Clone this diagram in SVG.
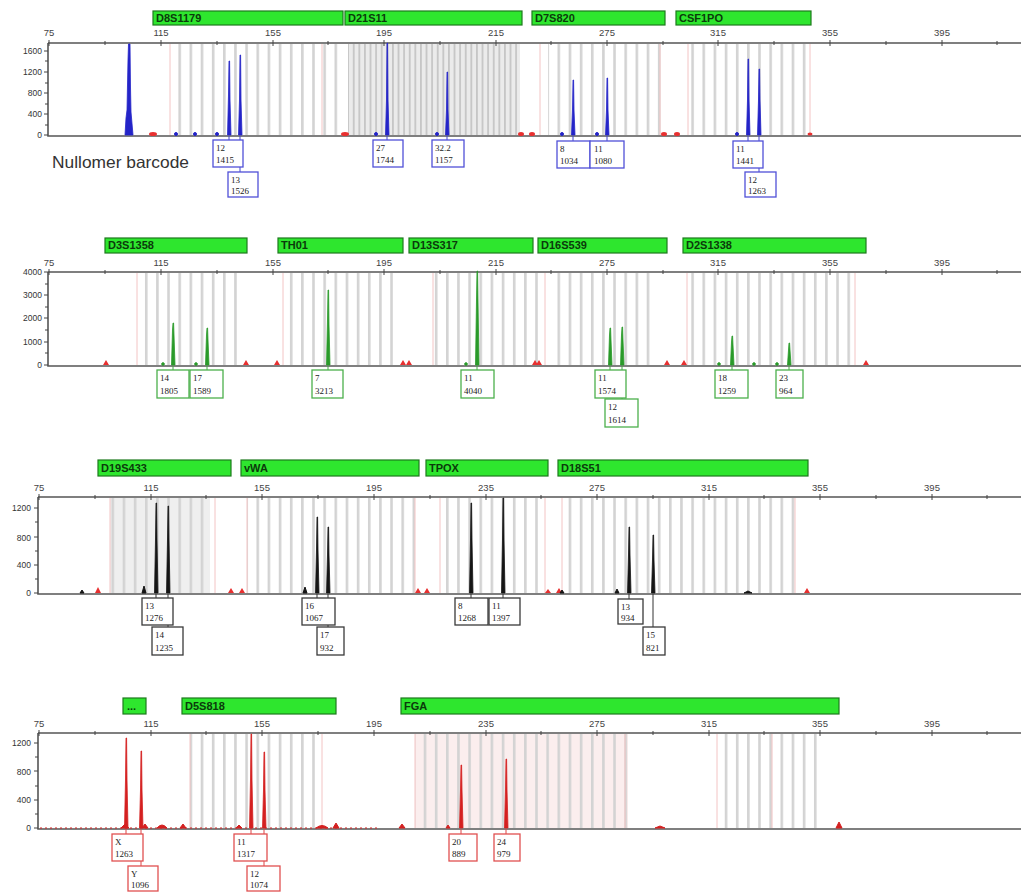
<svg xmlns="http://www.w3.org/2000/svg" width="1021" height="892" viewBox="0 0 1021 892">
<defs>
<style>
.loc{fill:#2ee62e;stroke:#1d7a1d;stroke-width:1.2}
.lt{font-family:"Liberation Sans",Arial,sans-serif;font-weight:bold;font-size:11px;fill:#0b3a0b}
.tk{font-family:"Liberation Sans",Arial,sans-serif;font-size:9.5px;fill:#444;text-anchor:middle}
.yl{font-family:"Liberation Sans",Arial,sans-serif;font-size:8.5px;fill:#333;text-anchor:end}
.ax{stroke:#555;stroke-width:1.6;fill:none}
.tm{stroke:#444;stroke-width:1}
.pk{stroke-width:0.8;stroke-linejoin:round}
.bx{fill:#fff;stroke-width:1.3}
.bt{font-family:"Liberation Serif","Times New Roman",serif;font-size:9px;fill:#222}
.pink{stroke:#f3c4c4;stroke-width:1}
.cb{stroke:#4444cc;stroke-width:1}
.cg{stroke:#44aa44;stroke-width:1}
.ck{stroke:#333;stroke-width:1}
.cr{stroke:#dd4444;stroke-width:1}
.mk{fill:#e83030}
</style>
<pattern id="pb" width="11.15" height="200" patternUnits="userSpaceOnUse"><rect width="2.6" height="200" fill="#d3d3d3"/></pattern>
<pattern id="pd" width="5.6" height="200" patternUnits="userSpaceOnUse"><rect width="5.6" height="200" fill="#ebebeb"/><rect width="1.8" height="200" fill="#c6c6c6"/></pattern>
</defs>

<!-- ================= PANEL 1 ================= -->
<g id="panel1">
<g id="bins1">
<rect x="170" y="44" width="170" height="91" fill="url(#pb)"/>
<rect x="348" y="44" width="172" height="91" fill="url(#pd)"/>
<rect x="548" y="44" width="117" height="91" fill="url(#pb)"/>
<rect x="684" y="44" width="122" height="91" fill="url(#pb)"/>
<line class="pink" x1="170" y1="44" x2="170" y2="135"/><line class="pink" x1="322" y1="44" x2="322" y2="135"/>
<line class="pink" x1="540" y1="44" x2="540" y2="135"/><line class="pink" x1="660" y1="44" x2="660" y2="135"/>
<line class="pink" x1="688" y1="44" x2="688" y2="135"/><line class="pink" x1="810" y1="44" x2="810" y2="135"/>
</g>
<g id="loci1">
<g id="loc-D8S1179"><rect class="loc" x="153" y="11" width="190" height="14"/><text class="lt" x="156" y="22">D8S1179</text></g>
<g id="loc-D21S11"><rect class="loc" x="345" y="11" width="177" height="14"/><text class="lt" x="348" y="22">D21S11</text></g>
<g id="loc-D7S820"><rect class="loc" x="532" y="11" width="133" height="14"/><text class="lt" x="535" y="22">D7S820</text></g>
<g id="loc-CSF1PO"><rect class="loc" x="676" y="11" width="135" height="14"/><text class="lt" x="679" y="22">CSF1PO</text></g>
</g>
<g id="axis1">
<text class="tk" x="49" y="36">75</text><text class="tk" x="161" y="36">115</text><text class="tk" x="273" y="36">155</text>
<text class="tk" x="384" y="36">195</text><text class="tk" x="496" y="36">215</text><text class="tk" x="607" y="36">275</text>
<text class="tk" x="718" y="36">315</text><text class="tk" x="830" y="36">355</text><text class="tk" x="942" y="36">395</text>
<path class="ax" d="M48 43 H1021 M48 43 V136 H1021"/>
<path class="tm" d="M49 40v6M105 41v4M161 40v6M217 41v4M273 40v6M328 41v4M384 40v6M440 41v4M496 40v6M551 41v4M607 40v6M663 41v4M718 40v6M774 41v4M830 40v6M886 41v4M942 40v6M997 41v4"/>
<path class="tm" d="M44 51h4M45 61h3M44 72h4M45 83h3M44 93h4M45 104h3M44 114h4M45 125h3M44 135h4"/>
<text class="yl" x="42" y="54">1600</text><text class="yl" x="42" y="75">1200</text><text class="yl" x="42" y="96">800</text>
<text class="yl" x="42" y="117">400</text><text class="yl" x="42" y="138">0</text>
</g>
<g id="markers1" class="mk">
<ellipse cx="153" cy="134" rx="4" ry="2"/><ellipse cx="345" cy="134" rx="4" ry="2"/><ellipse cx="521" cy="134" rx="3" ry="2"/>
<ellipse cx="532" cy="134" rx="3" ry="2"/><ellipse cx="664" cy="134" rx="3" ry="2"/><ellipse cx="677" cy="134" rx="3" ry="2"/><ellipse cx="810" cy="134" rx="2.5" ry="1.5"/>
</g>
<g id="peaks1" fill="#2424c8" stroke="#2424c8">
<path class="pk" d="M125 135 L126 118 L127 110 L128 60 L128.5 44 L130 44 L130.5 88 L131 112 L133 135Z"/>
<path class="pk" d="M227.5 135 L228.5 95 L229 61 L229.6 61 L230 100 L231 135Z"/>
<path class="pk" d="M238.5 135 L239.5 100 L240 55 L240.6 55 L241 100 L242 135Z"/>
<path class="pk" d="M385.5 135 L386.5 100 L387 43 L387.6 43 L388 100 L389 135Z"/>
<path class="pk" d="M445.5 135 L446.5 110 L447 72 L447.6 72 L448 110 L449 135Z"/>
<path class="pk" d="M571.5 135 L572.5 110 L573 80 L573.6 80 L574 110 L575 135Z"/>
<path class="pk" d="M605.5 135 L606.5 110 L607 78 L607.6 78 L608 110 L609 135Z"/>
<path class="pk" d="M746.5 135 L747.5 100 L748 59 L748.6 59 L749 100 L750 135Z"/>
<path class="pk" d="M757.5 135 L758.5 100 L759 69 L759.6 69 L760 100 L761 135Z"/>
<circle cx="176" cy="134" r="1.5"/><circle cx="195" cy="134" r="1.5"/><circle cx="217" cy="134" r="1.5"/>
<circle cx="376" cy="134" r="1.5"/><circle cx="437" cy="134" r="1.5"/><circle cx="562" cy="134" r="1.5"/>
<circle cx="597" cy="134" r="1.5"/><circle cx="737" cy="134" r="1.5"/>
</g>
<text x="52" y="168" font-family="'Liberation Sans',Arial,sans-serif" font-size="16.5" fill="#333" textLength="137" lengthAdjust="spacingAndGlyphs">Nullomer barcode</text>
</g>

<!-- ================= PANEL 2 ================= -->
<g id="panel2">
<g id="bins2">
<rect x="137" y="273" width="100" height="92" fill="url(#pb)"/>
<rect x="283" y="273" width="118" height="92" fill="url(#pb)"/>
<rect x="433" y="273" width="112" height="92" fill="url(#pb)"/>
<rect x="557" y="273" width="100" height="92" fill="url(#pb)"/>
<rect x="687" y="273" width="168" height="92" fill="url(#pb)"/>
<line class="pink" x1="137" y1="273" x2="137" y2="365"/><line class="pink" x1="283" y1="273" x2="283" y2="365"/>
<line class="pink" x1="433" y1="273" x2="433" y2="365"/><line class="pink" x1="545" y1="273" x2="545" y2="365"/>
<line class="pink" x1="687" y1="273" x2="687" y2="365"/><line class="pink" x1="855" y1="273" x2="855" y2="365"/>
</g>
<g id="loci2">
<g id="loc-D3S1358"><rect class="loc" x="105" y="238" width="142" height="15"/><text class="lt" x="108" y="249">D3S1358</text></g>
<g id="loc-TH01"><rect class="loc" x="278" y="238" width="125" height="15"/><text class="lt" x="281" y="249">TH01</text></g>
<g id="loc-D13S317"><rect class="loc" x="409" y="238" width="124" height="15"/><text class="lt" x="412" y="249">D13S317</text></g>
<g id="loc-D16S539"><rect class="loc" x="538" y="238" width="129" height="15"/><text class="lt" x="541" y="249">D16S539</text></g>
<g id="loc-D2S1338"><rect class="loc" x="683" y="238" width="183" height="15"/><text class="lt" x="686" y="249">D2S1338</text></g>
</g>
<g id="axis2">
<text class="tk" x="49" y="266">75</text><text class="tk" x="161" y="266">115</text><text class="tk" x="273" y="266">155</text>
<text class="tk" x="384" y="266">195</text><text class="tk" x="496" y="266">215</text><text class="tk" x="607" y="266">275</text>
<text class="tk" x="718" y="266">315</text><text class="tk" x="830" y="266">355</text><text class="tk" x="942" y="266">395</text>
<path class="ax" d="M48 272 H1021 M48 272 V366 H1021"/>
<path class="tm" d="M49 269v6M105 270v4M161 269v6M217 270v4M273 269v6M328 270v4M384 269v6M440 270v4M496 269v6M551 270v4M607 269v6M663 270v4M718 269v6M774 270v4M830 269v6M886 270v4M942 269v6M997 270v4"/>
<path class="tm" d="M44 272h4M45 284h3M44 295h4M45 307h3M44 318h4M45 330h3M44 342h4M45 353h3M44 365h4"/>
<text class="yl" x="42" y="275">4000</text><text class="yl" x="42" y="298">3000</text><text class="yl" x="42" y="321">2000</text>
<text class="yl" x="42" y="345">1000</text><text class="yl" x="42" y="368">0</text>
</g>
<g id="markers2" class="mk">
<path d="M103 365 l3 -5 l3 5z"/><path d="M243 365 l3 -5 l3 5z"/><path d="M274 365 l3 -5 l3 5z"/>
<path d="M400 365 l3 -5 l3 5z"/><path d="M406 365 l3 -5 l3 5z"/><path d="M532 365 l3 -5 l3 5z"/>
<path d="M536 365 l3 -5 l3 5z"/><path d="M664 365 l3 -5 l3 5z"/><path d="M681 365 l3 -5 l3 5z"/><path d="M863 365 l3 -5 l3 5z"/>
</g>
<g id="peaks2" fill="#2a9a2a" stroke="#2a9a2a">
<path class="pk" d="M171.5 365 L172.5 330 L173 323 L173.6 323 L174 335 L175 365Z"/>
<path class="pk" d="M205.5 365 L206.5 335 L207 328 L207.6 328 L208 340 L209 365Z"/>
<path class="pk" d="M326.5 365 L327.5 320 L328 290 L328.6 290 L329 325 L330 365Z"/>
<path class="pk" d="M475.5 365 L476.5 300 L477 271 L477.6 271 L478 300 L479 365Z"/>
<path class="pk" d="M608.5 365 L609.5 335 L610 328 L610.6 328 L611 340 L612 365Z"/>
<path class="pk" d="M620.5 365 L621.5 335 L622 327 L622.6 327 L623 340 L624 365Z"/>
<path class="pk" d="M730.5 365 L731.5 342 L732 336 L732.6 336 L733 345 L734 365Z"/>
<path class="pk" d="M787.5 365 L788.5 350 L789 343 L789.6 343 L790 350 L791 365Z"/>
<circle cx="163" cy="364" r="1.3"/><circle cx="196" cy="364" r="1.3"/><circle cx="466" cy="364" r="1.3"/>
<circle cx="719" cy="364" r="1.3"/><circle cx="777" cy="364" r="1.3"/><circle cx="754" cy="364" r="1.3"/>
</g>
</g>

<!-- ================= PANEL 3 ================= -->
<g id="panel3">
<g id="bins3">
<rect x="110" y="498" width="100" height="95" fill="#efefef"/>
<rect x="110" y="498" width="100" height="95" fill="url(#pb)"/>
<rect x="247" y="498" width="168" height="95" fill="url(#pb)"/>
<rect x="440" y="498" width="103" height="95" fill="url(#pb)"/>
<rect x="562" y="498" width="233" height="95" fill="url(#pb)"/>
<line class="pink" x1="110" y1="498" x2="110" y2="593"/><line class="pink" x1="215" y1="498" x2="215" y2="593"/>
<line class="pink" x1="247" y1="498" x2="247" y2="593"/><line class="pink" x1="415" y1="498" x2="415" y2="593"/>
<line class="pink" x1="440" y1="498" x2="440" y2="593"/><line class="pink" x1="545" y1="498" x2="545" y2="593"/>
<line class="pink" x1="562" y1="498" x2="562" y2="593"/><line class="pink" x1="795" y1="498" x2="795" y2="593"/>
</g>
<g id="loci3">
<g id="loc-D19S433"><rect class="loc" x="98" y="460" width="133" height="16"/><text class="lt" x="101" y="472">D19S433</text></g>
<g id="loc-vWA"><rect class="loc" x="241" y="460" width="178" height="16"/><text class="lt" x="244" y="472">vWA</text></g>
<g id="loc-TPOX"><rect class="loc" x="426" y="460" width="122" height="16"/><text class="lt" x="429" y="472">TPOX</text></g>
<g id="loc-D18S51"><rect class="loc" x="558" y="460" width="250" height="16"/><text class="lt" x="561" y="472">D18S51</text></g>
</g>
<g id="axis3">
<text class="tk" x="39" y="491">75</text><text class="tk" x="151" y="491">115</text><text class="tk" x="262" y="491">155</text>
<text class="tk" x="374" y="491">195</text><text class="tk" x="486" y="491">235</text><text class="tk" x="597" y="491">275</text>
<text class="tk" x="709" y="491">315</text><text class="tk" x="820" y="491">355</text><text class="tk" x="932" y="491">395</text>
<path class="ax" d="M38 497 H1021 M38 497 V594 H1021"/>
<path class="tm" d="M39 494v6M95 495v4M151 494v6M206 495v4M262 494v6M318 495v4M374 494v6M430 495v4M486 494v6M541 495v4M597 494v6M653 495v4M709 494v6M764 495v4M820 494v6M876 495v4M932 494v6M987 495v4"/>
<path class="tm" d="M34 508h4M35 522h3M34 537h4M35 551h3M34 565h4M35 579h3M34 593h4"/>
<text class="yl" x="31" y="511">1200</text><text class="yl" x="31" y="541">800</text>
<text class="yl" x="31" y="568">400</text><text class="yl" x="31" y="596">0</text>
</g>
<g id="markers3" class="mk">
<path d="M95 593 l3 -6 l3 6z"/><path d="M228 593 l3 -5 l3 5z"/><path d="M239 593 l3 -5 l3 5z"/>
<path d="M415 593 l3 -5 l3 5z"/><path d="M424 593 l3 -5 l3 5z"/><path d="M545 593 l3 -4 l3 4z"/>
<path d="M556 593 l3 -5 l3 5z"/><path d="M804 593 l3 -5 l3 5z"/>
</g>
<g id="peaks3" fill="#151515" stroke="#151515">
<path class="pk" d="M154.5 593 L155.5 540 L156 503 L156.6 503 L157 540 L158 593Z"/>
<path class="pk" d="M166.5 593 L167.5 540 L168 506 L168.6 506 L169 540 L170 593Z"/>
<path class="pk" d="M315.5 593 L316.5 550 L317 517 L317.6 517 L318 550 L319 593Z"/>
<path class="pk" d="M326.5 593 L327.5 555 L328 527 L328.6 527 L329 555 L330 593Z"/>
<path class="pk" d="M469.5 593 L470.5 540 L471 503 L471.6 503 L472 540 L473 593Z"/>
<path class="pk" d="M501.5 593 L502.5 540 L503 498 L503.6 498 L504 540 L505 593Z"/>
<path class="pk" d="M627.5 593 L628.5 555 L629 527 L629.6 527 L630 555 L631 593Z"/>
<path class="pk" d="M651.5 593 L652.5 560 L653 535 L653.6 535 L654 560 L655 593Z"/>
<path d="M142 593 L144 586 L146 593Z"/><path d="M303 593 L305 587 L307 593Z"/><path d="M80 593 L82 590 L84 593Z"/>
<path d="M615 593 L617 589 L619 593Z"/><path d="M560 593 L562 590 L564 593Z"/><path d="M744 593 L748 591 L752 593Z"/>
</g>
</g>

<!-- ================= PANEL 4 ================= -->
<g id="panel4">
<g id="bins4">
<rect x="190" y="734" width="130" height="94" fill="url(#pb)"/>
<rect x="415" y="734" width="213" height="94" fill="#fbeeee"/>
<rect x="415" y="734" width="213" height="94" fill="url(#pb)"/>
<rect x="717" y="734" width="105" height="94" fill="url(#pb)"/>
<line class="pink" x1="190" y1="734" x2="190" y2="828"/><line class="pink" x1="322" y1="734" x2="322" y2="828"/>
<line class="pink" x1="415" y1="734" x2="415" y2="828"/><line class="pink" x1="625" y1="734" x2="625" y2="828"/>
<line class="pink" x1="717" y1="734" x2="717" y2="828"/><line class="pink" x1="772" y1="734" x2="772" y2="828"/>
</g>
<g id="loci4">
<g id="loc-X"><rect class="loc" x="123" y="698" width="23" height="16"/><text class="lt" x="127" y="710">...</text></g>
<g id="loc-D5S818"><rect class="loc" x="182" y="698" width="154" height="16"/><text class="lt" x="185" y="710">D5S818</text></g>
<g id="loc-FGA"><rect class="loc" x="401" y="698" width="438" height="16"/><text class="lt" x="404" y="710">FGA</text></g>
</g>
<g id="axis4">
<text class="tk" x="39" y="727">75</text><text class="tk" x="151" y="727">115</text><text class="tk" x="262" y="727">155</text>
<text class="tk" x="374" y="727">195</text><text class="tk" x="486" y="727">235</text><text class="tk" x="597" y="727">275</text>
<text class="tk" x="709" y="727">315</text><text class="tk" x="820" y="727">355</text><text class="tk" x="932" y="727">395</text>
<path class="ax" d="M38 733 H1021 M38 733 V829 H1021"/>
<path class="tm" d="M39 730v6M95 731v4M151 730v6M206 731v4M262 730v6M318 731v4M374 730v6M430 731v4M486 730v6M541 731v4M597 730v6M653 731v4M709 730v6M764 731v4M820 730v6M876 731v4M932 730v6M987 731v4"/>
<path class="tm" d="M34 743h4M35 757h3M34 771h4M35 786h3M34 800h4M35 814h3M34 828h4"/>
<text class="yl" x="31" y="746">1200</text><text class="yl" x="31" y="775">800</text>
<text class="yl" x="31" y="803">400</text><text class="yl" x="31" y="831">0</text>
</g>
<g id="peaks4" fill="#d42020" stroke="#d42020">
<path class="pk" d="M124.5 828 L125.5 780 L126 738 L126.6 738 L127 780 L128 828Z"/>
<path class="pk" d="M139.5 828 L140.5 790 L141 751 L141.6 751 L142 790 L143 828Z"/>
<path class="pk" d="M249.5 828 L250.5 780 L251 734 L251.6 734 L252 780 L253 828Z"/>
<path class="pk" d="M262.5 828 L263.5 790 L264 752 L264.6 752 L265 790 L266 828Z"/>
<path class="pk" d="M459.5 828 L460.5 790 L461 765 L461.6 765 L462 790 L463 828Z"/>
<path class="pk" d="M504.5 828 L505.5 790 L506 759 L506.6 759 L507 790 L508 828Z"/>
<path d="M121 828 L125 824 L129 828Z"/><path d="M142 828 L145 824 L148 828Z"/><path d="M157 828 Q162 822 167 828Z"/>
<path d="M180 828 L183 824 L186 828Z"/><path d="M236 828 L239 825 L242 828Z"/><path d="M316 828 Q322 823 328 828Z"/>
<path d="M333 828 L336 823 L339 828Z"/><path d="M399 828 L402 824 L405 828Z"/><path d="M446 828 L448 825 L450 828Z"/>
<path d="M836 828 L839 822 L842 828Z"/><path d="M655 828 L660 826 L665 828Z"/>
</g>
<line x1="40" y1="828" x2="380" y2="828" stroke="#d42020" stroke-width="1" stroke-dasharray="2 3"/>
</g>

<!-- ================= CONNECTORS ================= -->
<g id="connectors">
<line class="cb" x1="229" y1="136" x2="229" y2="140"/><line class="cb" x1="240" y1="136" x2="240" y2="172"/>
<line class="cb" x1="387" y1="136" x2="387" y2="140"/><line class="cb" x1="447" y1="136" x2="447" y2="140"/>
<line class="cb" x1="573" y1="136" x2="573" y2="141"/><line class="cb" x1="607" y1="136" x2="607" y2="141"/>
<line class="cb" x1="748" y1="136" x2="748" y2="141"/><line class="cb" x1="759" y1="136" x2="759" y2="172"/>
<line class="cg" x1="173" y1="366" x2="173" y2="370"/><line class="cg" x1="207" y1="366" x2="207" y2="370"/>
<line class="cg" x1="328" y1="366" x2="328" y2="370"/><line class="cg" x1="477" y1="366" x2="477" y2="370"/>
<line class="cg" x1="610" y1="366" x2="610" y2="370"/><line class="cg" x1="622" y1="366" x2="622" y2="399"/>
<line class="cg" x1="732" y1="366" x2="732" y2="370"/><line class="cg" x1="789" y1="366" x2="789" y2="370"/>
<line class="ck" x1="156" y1="594" x2="156" y2="598"/><line class="ck" x1="168" y1="594" x2="168" y2="627"/>
<line class="ck" x1="317" y1="594" x2="317" y2="598"/><line class="ck" x1="328" y1="594" x2="328" y2="627"/>
<line class="ck" x1="471" y1="594" x2="471" y2="598"/><line class="ck" x1="503" y1="594" x2="503" y2="598"/>
<line class="ck" x1="629" y1="594" x2="629" y2="599"/><line class="ck" x1="653" y1="594" x2="653" y2="627"/>
<line class="cr" x1="126" y1="829" x2="126" y2="834"/><line class="cr" x1="141" y1="829" x2="141" y2="866"/>
<line class="cr" x1="251" y1="829" x2="251" y2="834"/><line class="cr" x1="264" y1="829" x2="264" y2="866"/>
<line class="cr" x1="461" y1="829" x2="461" y2="834"/><line class="cr" x1="506" y1="829" x2="506" y2="834"/>
</g>

<!-- ================= ALLELE LABELS ================= -->
<g id="labels1" stroke="#5050d8">
<g id="a1"><rect class="bx" x="213" y="140" width="30" height="27"/><text class="bt" stroke="none" x="216" y="151">12</text><text class="bt" stroke="none" x="216" y="163">1415</text></g>
<g id="a2"><rect class="bx" x="228" y="172" width="30" height="25"/><text class="bt" stroke="none" x="231" y="183">13</text><text class="bt" stroke="none" x="231" y="194">1526</text></g>
<g id="a3"><rect class="bx" x="373" y="140" width="30" height="27"/><text class="bt" stroke="none" x="376" y="151">27</text><text class="bt" stroke="none" x="376" y="163">1744</text></g>
<g id="a4"><rect class="bx" x="432" y="140" width="32" height="27"/><text class="bt" stroke="none" x="435" y="151">32.2</text><text class="bt" stroke="none" x="435" y="163">1157</text></g>
<g id="a5"><rect class="bx" x="557" y="141" width="33" height="27"/><text class="bt" stroke="none" x="560" y="152">8</text><text class="bt" stroke="none" x="560" y="164">1034</text></g>
<g id="a6"><rect class="bx" x="590" y="141" width="34" height="27"/><text class="bt" stroke="none" x="594" y="152">11</text><text class="bt" stroke="none" x="594" y="164">1080</text></g>
<g id="a7"><rect class="bx" x="733" y="141" width="30" height="27"/><text class="bt" stroke="none" x="736" y="152">11</text><text class="bt" stroke="none" x="736" y="164">1441</text></g>
<g id="a8"><rect class="bx" x="745" y="172" width="31" height="25"/><text class="bt" stroke="none" x="748" y="183">12</text><text class="bt" stroke="none" x="748" y="194">1263</text></g>
</g>
<g id="labels2" stroke="#4cb04c">
<g id="b1"><rect class="bx" x="157" y="370" width="32" height="28"/><text class="bt" stroke="none" x="160" y="381">14</text><text class="bt" stroke="none" x="160" y="394">1805</text></g>
<g id="b2"><rect class="bx" x="190" y="370" width="33" height="28"/><text class="bt" stroke="none" x="193" y="381">17</text><text class="bt" stroke="none" x="193" y="394">1589</text></g>
<g id="b3"><rect class="bx" x="312" y="370" width="31" height="28"/><text class="bt" stroke="none" x="315" y="381">7</text><text class="bt" stroke="none" x="315" y="394">3213</text></g>
<g id="b4"><rect class="bx" x="461" y="370" width="33" height="28"/><text class="bt" stroke="none" x="464" y="381">11</text><text class="bt" stroke="none" x="464" y="394">4040</text></g>
<g id="b5"><rect class="bx" x="595" y="370" width="31" height="28"/><text class="bt" stroke="none" x="598" y="381">11</text><text class="bt" stroke="none" x="598" y="394">1574</text></g>
<g id="b6"><rect class="bx" x="605" y="399" width="33" height="28"/><text class="bt" stroke="none" x="608" y="410">12</text><text class="bt" stroke="none" x="608" y="423">1614</text></g>
<g id="b7"><rect class="bx" x="715" y="370" width="33" height="28"/><text class="bt" stroke="none" x="718" y="381">18</text><text class="bt" stroke="none" x="718" y="394">1259</text></g>
<g id="b8"><rect class="bx" x="776" y="370" width="27" height="28"/><text class="bt" stroke="none" x="779" y="381">23</text><text class="bt" stroke="none" x="779" y="394">964</text></g>
</g>
<g id="labels3" stroke="#3a3a3a">
<g id="c1"><rect class="bx" x="142" y="598" width="31" height="27"/><text class="bt" stroke="none" x="145" y="609">13</text><text class="bt" stroke="none" x="145" y="621">1276</text></g>
<g id="c2"><rect class="bx" x="152" y="627" width="31" height="28"/><text class="bt" stroke="none" x="155" y="638">14</text><text class="bt" stroke="none" x="155" y="651">1235</text></g>
<g id="c3"><rect class="bx" x="302" y="598" width="33" height="27"/><text class="bt" stroke="none" x="305" y="609">16</text><text class="bt" stroke="none" x="305" y="621">1067</text></g>
<g id="c4"><rect class="bx" x="317" y="627" width="27" height="28"/><text class="bt" stroke="none" x="320" y="638">17</text><text class="bt" stroke="none" x="320" y="651">932</text></g>
<g id="c5"><rect class="bx" x="455" y="598" width="33" height="27"/><text class="bt" stroke="none" x="458" y="609">8</text><text class="bt" stroke="none" x="458" y="621">1268</text></g>
<g id="c6"><rect class="bx" x="489" y="598" width="31" height="27"/><text class="bt" stroke="none" x="492" y="609">11</text><text class="bt" stroke="none" x="492" y="621">1397</text></g>
<g id="c7"><rect class="bx" x="618" y="599" width="25" height="25"/><text class="bt" stroke="none" x="621" y="610">13</text><text class="bt" stroke="none" x="621" y="621">934</text></g>
<g id="c8"><rect class="bx" x="643" y="627" width="22" height="28"/><text class="bt" stroke="none" x="646" y="638">15</text><text class="bt" stroke="none" x="646" y="651">821</text></g>
</g>
<g id="labels4" stroke="#e05050">
<g id="d1"><rect class="bx" x="112" y="834" width="31" height="27"/><text class="bt" stroke="none" x="115" y="845">X</text><text class="bt" stroke="none" x="115" y="857">1263</text></g>
<g id="d2"><rect class="bx" x="128" y="866" width="30" height="25"/><text class="bt" stroke="none" x="131" y="877">Y</text><text class="bt" stroke="none" x="131" y="888">1096</text></g>
<g id="d3"><rect class="bx" x="234" y="834" width="33" height="27"/><text class="bt" stroke="none" x="237" y="845">11</text><text class="bt" stroke="none" x="237" y="857">1317</text></g>
<g id="d4"><rect class="bx" x="247" y="866" width="33" height="25"/><text class="bt" stroke="none" x="250" y="877">12</text><text class="bt" stroke="none" x="250" y="888">1074</text></g>
<g id="d5"><rect class="bx" x="449" y="834" width="28" height="27"/><text class="bt" stroke="none" x="452" y="845">20</text><text class="bt" stroke="none" x="452" y="857">889</text></g>
<g id="d6"><rect class="bx" x="494" y="834" width="26" height="27"/><text class="bt" stroke="none" x="497" y="845">24</text><text class="bt" stroke="none" x="497" y="857">979</text></g>
</g>
</svg>
